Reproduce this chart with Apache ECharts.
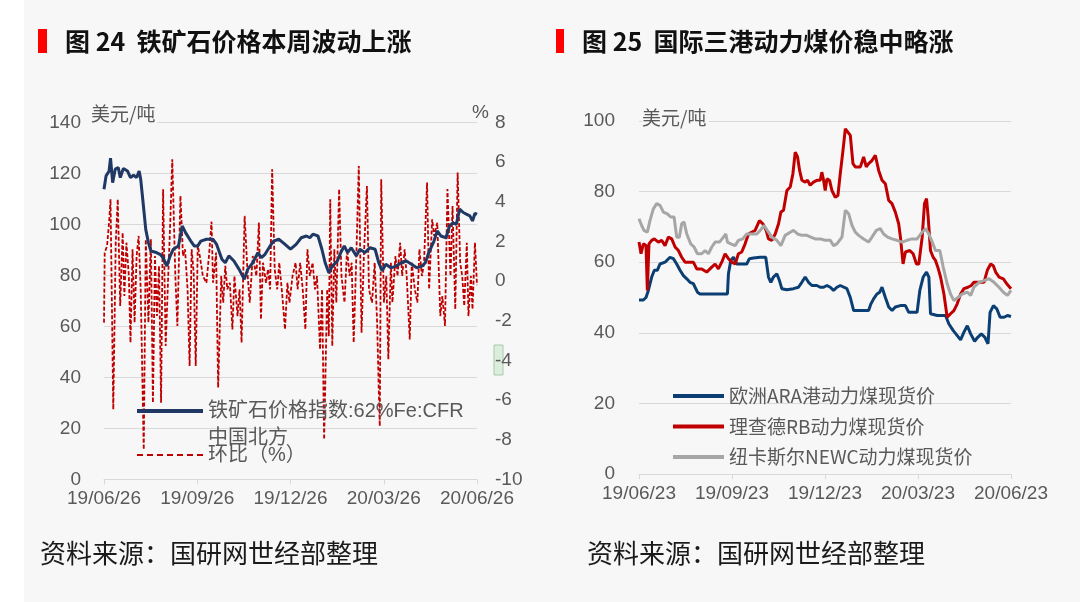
<!DOCTYPE html>
<html>
<head>
<meta charset="utf-8">
<title>铁矿石与动力煤价格</title>
<script src="https://cdn.jsdelivr.net/npm/echarts@6.0.0/dist/echarts.min.js"></script>
<style>
  html, body { margin: 0; padding: 0; background: #f7f7f7; }
  #chart { width: 1080px; height: 602px; }
</style>
</head>
<body>
<div id="chart"></div>
<script>
// 横轴刻度（按天计，0 = 起始日，91.5 天一格）
const ironTickLabels = ['19/06/26', '19/09/26', '19/12/26', '20/03/26', '20/06/26'];
const coalTickLabels = ['19/06/23', '19/09/23', '19/12/23', '20/03/23', '20/06/23'];

// 图24：铁矿石价格指数（美元/吨），[天数, 数值]
const ironIndex = [
  [0,113.8],[2,119],[5,121],[6.4,126],[8.5,116.4],[11,121.7],[14,122.3],[16,118.4],[19,122],[23,121],
  [26,118.4],[29,119.3],[32,118.4],[34.5,121],[36,117.8],[38,110],[41,98],[43.6,92.9],[46,89.6],[51.4,89],
  [55,88.3],[58,87],[61.6,83.7],[65,87.7],[68,90.3],[73,91.6],[76.8,99.4],[80,96.8],[85,93.6],[88.5,91.6],
  [92,91.6],[95,93.5],[100.5,94.2],[107,94.2],[110.5,92.2],[115.7,86.4],[119,85],[122.5,87.7],[127.5,85.7],[132.6,82.4],
  [137.7,78.5],[141,82.4],[146,85],[151,89],[154.5,87],[158,88.3],[163,91.6],[166.4,93.5],[171.5,94.2],[176.5,92.6],
  [183,90.3],[188.5,92.2],[193.5,94.8],[198.6,95.5],[202,94.8],[205,96.2],[210,95.5],[213.8,90.3],[217,85],[220.6,81.1],
  [224,83.7],[229,85.7],[232.4,89],[235.8,91.6],[239,89],[242.6,90.9],[247.6,87.7],[251,90.3],[256,89],[261,90.9],
  [266,90.3],[269.6,85],[273,81.8],[276.5,84.4],[281.5,83],[286.6,83.7],[291.6,85],[296.7,85.7],[301.8,84.4],[306.8,83],
  [312,83.7],[315.3,85],[318.7,89],[323.8,93.5],[327,97.5],[330.5,95.5],[335.6,94.8],[339,99.4],[342.4,100.7],[345.7,100],
  [349,106],[352.5,104.7],[356,104],[359,103.4],[361.6,101.4],[364,104.4],[366,104]
];

// 图24：环比（%），[天数, 数值]
const ironChange = [
  [0,-2.09],[0.7,1.44],[3,1.78],[5,2.95],[6.4,4.13],[9.1,-6.47],[11.5,1.94],[13.5,4.13],[15.9,-1.25],[18.3,2.45],
  [20,-0.75],[22,1.94],[24.4,0.26],[26,-3.1],[28,1.61],[30,-2.09],[32,1.27],[34,2.28],[36,-0.41],[39,-8.49],
  [41,2.11],[43.6,-2.09],[46,2.11],[48,-6.13],[50,1.27],[52,-1.76],[54,0.77],[56,-6.13],[58,4.64],[60.5,-3.27],
  [63,0.26],[65,2.95],[67,6.15],[70,0.26],[72,-2.26],[75,4.3],[77.5,1.27],[79.5,1.61],[82,-0.41],[84,-4.28],
  [86,1.61],[88,0.43],[90,-4.28],[92,1.78],[94,1.27],[97,0.26],[100.5,-0.08],[103,1.27],[105.5,3.0],[107,-0.08],
  [110,1.44],[112,-5.37],[115,0.26],[117,-1.08],[119,0.77],[121,-0.41],[123.5,-0.08],[126,-2.43],[128,0.26],[131,-1.76],
  [133,-0.41],[135,-3.1],[138,3.29],[141,0.26],[143,-1.08],[146,1.27],[149.5,0.26],[152,2.95],[154,-1.93],[156,0.93],
  [159,-0.08],[161,0.6],[163,-0.41],[165,5.64],[167.5,0.6],[170,-0.41],[172,0.93],[175,-0.75],[177.6,-2.43],[180,-0.08],
  [182,-1.08],[185,0.26],[188,0.93],[190,-0.41],[192.5,0.93],[195,-0.41],[197.6,-2.43],[199.6,1.61],[202,0.26],[204.7,0.93],
  [207,-0.41],[209,0.26],[212,-3.44],[214,-0.41],[216,-7.98],[219,-0.41],[220.6,-2.77],[222,4.13],[224,-3.27],[226,1.61],
  [228,-1.08],[230.7,4.64],[233,0.26],[236,-1.08],[238.5,1.61],[241,0.26],[243,0.93],[245,-3.1],[247.6,1.27],[250,5.81],
  [252.7,-2.6],[255,1.27],[258,4.8],[260,-0.41],[263,-1.08],[265.6,0.93],[268,-2.09],[269.6,-5.46],[270.6,-7.31],[272,5.14],
  [274.7,-1.08],[277,0.26],[279,-3.94],[281.5,0.93],[283,-1.08],[286,1.27],[288,0.26],[290.6,1.94],[292.6,0.26],[295,1.61],
  [297,0.26],[300,-2.94],[302,0.93],[305,-0.41],[307.5,-1.08],[309.5,1.61],[312,0.26],[314,0.93],[317,4.97],[319,-0.41],
  [322,3.12],[324,2.28],[327,2.95],[330,-1.76],[332,-0.75],[334.6,-2.26],[337,4.64],[340,0.26],[342,3.79],[344.7,-1.42],
  [347,5.48],[349.5,0.93],[351.5,0.26],[353.5,-1.25],[356,1.94],[357.6,-1.76],[360,0.26],[361.6,-1.42],[364,1.94],[366,-0.2]
];

// 图25：三港动力煤现货价（美元/吨），[天数, 数值]
const araPrice = [
  [0,49.3],[4.3,49.3],[6.9,50],[9.2,52],[12.5,55.8],[15.1,57.7],[18,57.7],[20.7,59.5],[25.6,60],[30.5,61.4],
  [33.8,61],[37.1,59.5],[40.4,57.7],[43.7,56.2],[47,55.3],[50.2,54.3],[53.5,53.9],[57.5,51.5],[60,51],[70,51],
  [79.8,51],[87,51],[88,56.7],[90.3,60.5],[92.9,61.4],[96.2,59.5],[101.1,59.5],[106,59.5],[108.6,61],[112.6,61.2],
  [119.2,61.4],[124.7,61.4],[127.4,55.8],[129.7,54.3],[132.3,55.8],[135.6,56.7],[138.2,54.8],[140.5,52.5],[145.4,52.2],[152,52.5],
  [156.9,52.9],[160.2,54.3],[163.5,55.8],[166.8,54.3],[170.1,53.4],[175,53.4],[178.3,52.9],[181.6,52.9],[184.9,53.4],[188.2,52.9],
  [191.4,52],[194.7,52.9],[198,53.4],[204.6,52.5],[207.9,50],[211.2,46.3],[217.8,46.3],[225.9,46.3],[228.2,48.2],[230.8,49.6],
  [234.1,51],[236.8,51.5],[239.1,52.9],[242.4,50],[245.7,47.3],[249,46.3],[252.2,47.3],[257.2,47.7],[262.1,47.7],[265.4,45.8],
  [273.6,45.8],[276.3,52],[279.6,55.8],[282.9,57.2],[285.2,55.8],[286.8,45.4],[293.4,44.9],[301.6,44.9],[304.9,42.5],[309.2,40.6],
  [313.1,39.2],[316.4,38],[319.7,40.2],[323,42],[326.3,39.7],[330.2,37.6],[333.5,38.8],[336.8,39.7],[340.1,38.8],[343.4,36.9],
  [345.4,45.8],[348.7,47.7],[352,46.8],[355.3,44.4],[359.2,44.4],[362.5,44.9],[366,44.6]
];

const rbPrice = [
  [0,65.7],[2,62.4],[4.3,65.2],[6.9,64.7],[8.2,52],[9.8,65.2],[12.5,66.2],[15.1,66.6],[19,65.7],[22.3,66.2],
  [25.6,64.7],[28.9,67.1],[32.2,66.6],[35.5,64.3],[38.8,63.3],[42,61.4],[45.3,60],[50.2,60],[53.5,60],[56.8,58.1],
  [61.7,58.1],[66.6,57.2],[71.6,58.6],[74.9,59.5],[78.1,58.1],[81.4,60],[84.7,62.4],[88,61],[91.3,60],[94.6,59.5],
  [97.8,62.4],[101.1,62.9],[104.4,65.2],[107.7,68],[111,68.5],[114.2,69],[118.5,71.8],[121.8,70.9],[125.1,69],[127.4,66.6],
  [130.7,66.2],[134,68],[137.3,70.9],[139.6,74.2],[142.2,74.7],[145.5,80.3],[148.8,81.3],[151.4,85],[153.7,91.2],[156,89.8],
  [158,86],[160.3,83.2],[163.5,82.7],[165.8,83.2],[168.4,81.8],[171.7,82.7],[175,83.2],[178.3,83.2],[179.9,85.5],[181.6,83.2],
  [183.2,80.3],[184.9,83.6],[187.5,83.2],[189.8,80.3],[193.1,78.4],[195.7,78.9],[198,85],[200.7,91.7],[203,97.8],[205.3,96.9],
  [207.9,95.9],[210.5,87.9],[212.8,87],[217.8,87],[221,89.8],[223.6,87],[225.9,87.9],[229.2,88.8],[232.5,90.3],[235.8,86],
  [239.1,83.2],[242.4,82.2],[245.7,77.5],[248.9,76.6],[252.2,74.2],[255.5,70.9],[257.2,67.1],[259.8,59.5],[262.1,62.9],[266.4,63.3],
  [269.7,62.4],[273,59.5],[275.3,59.5],[278.6,67.1],[280.9,76.6],[282.9,78],[284.5,72.8],[286.8,63.3],[289.4,61.4],[291.7,60.5],
  [294,58.6],[296.7,55.8],[300,51],[303.2,44.4],[306.5,45.4],[309.8,46.3],[313.1,48.2],[316.4,51],[319.7,52.5],[323.6,52.9],
  [326.9,53.4],[329.5,54.3],[334.5,54.3],[339.4,54.3],[342.7,57.7],[346,59.5],[348.6,59],[350.9,57.2],[354.2,55.8],[358.5,55.3],
  [361.8,53.9],[366,52.5]
];

const newcPrice = [
  [0,72.3],[2.6,70.4],[4.9,69],[8.2,68.5],[10.8,71.8],[14.1,75.1],[17.4,76.6],[20.7,76.1],[24,74.2],[27.9,73.7],
  [31.2,72.8],[34.5,72.8],[37.1,67.1],[39.7,67.1],[42,70.9],[44.3,71.4],[47,68],[50.9,65.2],[54.2,64.3],[57.5,62.4],
  [61.7,62.4],[65,63.3],[68.3,62.4],[71.6,64.3],[74.9,65.7],[79.2,65.7],[83.1,67.1],[85.4,68],[87,65.7],[90.3,65.2],
  [94.6,64.7],[97.8,66.2],[102.1,66.6],[106,68],[111,68],[115.9,68],[119.2,69],[123.1,70.4],[127.4,68.5],[130.7,67.1],
  [135.6,66.2],[139.6,64.7],[141.5,65.2],[143.8,67.6],[148.8,68.5],[152,69],[156,68],[160.3,67.6],[165.2,67.6],[169.1,67.1],
  [173.4,66.6],[178.3,66.6],[183.2,66.2],[188.2,66.2],[191.4,64.7],[194.7,65.2],[199.7,67.1],[203,74.7],[206.3,73.7],[209.6,70.4],
  [212.8,68.5],[216.1,67.6],[221,66.6],[225.9,65.7],[229.2,67.1],[233.5,69],[237.4,69.5],[240.7,68],[244.6,67.1],[248.9,66.6],
  [253.8,66.2],[258.8,65.7],[263.7,66.2],[268.6,66.6],[273.6,66.6],[278.6,68.5],[281.9,69.5],[285.2,68],[288.5,65.7],[291.7,63.3],
  [296,63.3],[299.3,58.6],[303.2,53.9],[306.5,51],[309.8,49.1],[313.8,50],[318,51],[323,51.5],[326.3,50.6],[329.5,52.9],
  [334.5,54.3],[339.4,54.8],[344.4,55.3],[349.3,54.3],[354.2,52.9],[358.5,51.5],[362.5,50.6],[366,52]
];

const ironIndexName = '铁矿石价格指数:62%Fe:CFR\n中国北方';
const ironChangeName = '环比（%）';
const coalNames = ['欧洲ARA港动力煤现货价', '理查德RB动力煤现货价', '纽卡斯尔NEWC动力煤现货价'];

const LATIN = "'Liberation Sans', 'Noto Sans CJK SC', sans-serif";
const CJK = "'Noto Sans CJK SC', 'Liberation Sans', sans-serif";
const LABEL_COLOR = '#595959';
const GRID_COLOR = '#d9d9d9';
// 虚线图例图标（7 段短线）
const DASH_ICON = 'path://M0,0h6v2h-6zM10,0h6v2h-6zM20,0h6v2h-6zM30,0h6v2h-6zM40,0h6v2h-6zM50,0h6v2h-6zM60,0h6v2h-6z';

const chart = echarts.init(document.getElementById('chart'));

// 横轴：按天的数值轴，刻度标签取自数组
function dayAxis(gridIndex, labels) {
  return {
    type: 'value',
    gridIndex: gridIndex,
    min: 0,
    max: 366,
    interval: 91.5,
    axisLine: { show: true, lineStyle: { color: GRID_COLOR, width: 1 } },
    axisTick: { show: true, length: 5, lineStyle: { color: GRID_COLOR } },
    splitLine: { show: false },
    axisLabel: {
      color: LABEL_COLOR, fontSize: 19, fontFamily: LATIN, margin: 10,
      formatter: v => labels[Math.round(v / 91.5)]
    }
  };
}

function valueAxis(gridIndex, min, max, interval, position, margin, showGrid) {
  return {
    type: 'value',
    gridIndex: gridIndex,
    position: position,
    min: min,
    max: max,
    interval: interval,
    axisLine: { show: false },
    axisTick: { show: false },
    splitLine: { show: showGrid, lineStyle: { color: GRID_COLOR, width: 1 } },
    axisLabel: { color: LABEL_COLOR, fontSize: 19, fontFamily: LATIN, margin: margin }
  };
}

function lineSeries(name, data, xIndex, yIndex, color, width, type, z) {
  return {
    name: name,
    type: 'line',
    xAxisIndex: xIndex,
    yAxisIndex: yIndex,
    data: data,
    symbol: 'none',
    showSymbol: false,
    smooth: false,
    z: z,
    lineStyle: { color: color, width: width, type: type },
    itemStyle: { color: color }
  };
}

const option = {
  backgroundColor: '#f7f7f7',
  animation: false,
  grid: [
    { left: 104, right: 603, top: 122.5, bottom: 122.5 },
    { left: 639, right: 69, top: 121, bottom: 128 }
  ],
  xAxis: [dayAxis(0, ironTickLabels), dayAxis(1, coalTickLabels)],
  yAxis: [
    valueAxis(0, 0, 140, 20, 'left', 23, true),
    valueAxis(0, -10, 8, 2, 'right', 18, false),
    valueAxis(1, 0, 100, 20, 'left', 24, true)
  ],
  legend: [
    {
      // 首行前加空行，使图标与第一行文字对齐
      data: [ironIndexName],
      left: 137, top: 370.5, padding: 0,
      icon: 'rect', itemWidth: 66, itemHeight: 4,
      formatter: name => '\n' + name,
      textStyle: { color: LABEL_COLOR, fontSize: 20, fontFamily: LATIN, lineHeight: 27 }
    },
    {
      data: [ironChangeName],
      left: 137, top: 441.5, padding: 0,
      icon: DASH_ICON, itemWidth: 66, itemHeight: 2,
      textStyle: { color: LABEL_COLOR, fontSize: 20, fontFamily: LATIN, lineHeight: 27 }
    },
    {
      data: coalNames,
      orient: 'vertical',
      left: 673, top: 386, padding: 0,
      icon: 'rect', itemWidth: 51, itemHeight: 4, itemGap: 10.5,
      textStyle: { color: LABEL_COLOR, fontSize: 19, fontFamily: CJK, lineHeight: 20 }
    }
  ],
  graphic: [
    { type: 'rect', shape: { x: 0, y: 0, width: 24, height: 602 }, style: { fill: '#ffffff' }, silent: true },
    // 标题
    { type: 'rect', shape: { x: 38, y: 29, width: 9, height: 24 }, style: { fill: '#ff0000' } },
    { type: 'text', style: { x: 65, y: 41, text: '图 24  铁矿石价格本周波动上涨', fill: '#111', fontSize: 25, fontWeight: 'bold', fontFamily: CJK, verticalAlign: 'middle' } },
    { type: 'rect', shape: { x: 556, y: 29, width: 8, height: 24 }, style: { fill: '#ff0000' } },
    { type: 'text', style: { x: 582, y: 41, text: '图 25  国际三港动力煤价稳中略涨', fill: '#111', fontSize: 25, fontWeight: 'bold', fontFamily: CJK, verticalAlign: 'middle' } },
    // 单位
    { type: 'text', z: 50, style: { x: 91, y: 114, text: '美元/吨', fill: LABEL_COLOR, fontSize: 19, fontFamily: CJK, verticalAlign: 'middle', backgroundColor: '#f7f7f7', padding: [2, 2, 4, 0] } },
    { type: 'text', style: { x: 472, y: 113, text: '%', fill: LABEL_COLOR, fontSize: 19, fontFamily: LATIN, verticalAlign: 'middle' } },
    { type: 'text', z: 50, style: { x: 642, y: 118, text: '美元/吨', fill: LABEL_COLOR, fontSize: 19, fontFamily: CJK, verticalAlign: 'middle', backgroundColor: '#f7f7f7', padding: [2, 2, 4, 0] } },
    // 右轴 -4 处的浅绿色框
    { type: 'rect', shape: { x: 494, y: 345, width: 9, height: 30 }, style: { fill: 'rgba(205,232,205,0.65)', stroke: '#a9c9a9', lineWidth: 1 } },
    // 资料来源
    { type: 'text', style: { x: 40, y: 553, text: '资料来源：国研网世经部整理', fill: '#1a1a1a', fontSize: 26, fontFamily: CJK, verticalAlign: 'middle' } },
    { type: 'text', style: { x: 587, y: 553, text: '资料来源：国研网世经部整理', fill: '#1a1a1a', fontSize: 26, fontFamily: CJK, verticalAlign: 'middle' } }
  ],
  series: [
    lineSeries(ironChangeName, ironChange, 0, 1, '#c00000', 1.8, [4, 2], 2),
    lineSeries(ironIndexName, ironIndex, 0, 0, '#1f3864', 3, 'solid', 3),
    lineSeries(coalNames[0], araPrice, 1, 2, '#0b3f73', 3, 'solid', 2),
    lineSeries(coalNames[1], rbPrice, 1, 2, '#c00000', 3, 'solid', 2),
    lineSeries(coalNames[2], newcPrice, 1, 2, '#a6a6a6', 3, 'solid', 2)
  ]
};

chart.setOption(option);
</script>
</body>
</html>
